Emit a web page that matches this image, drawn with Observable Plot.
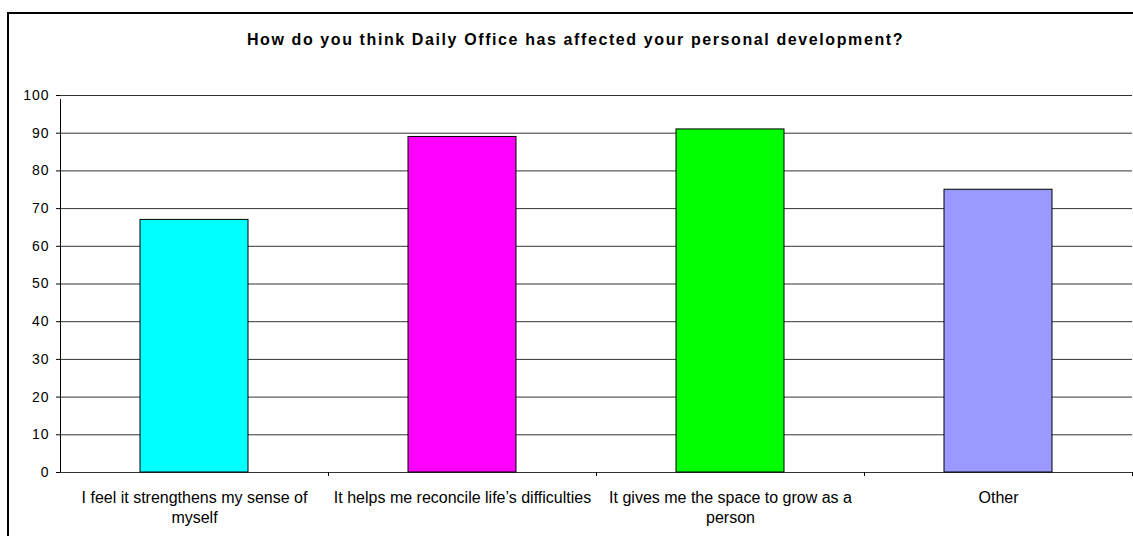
<!DOCTYPE html>
<html>
<head>
<meta charset="utf-8">
<script src="https://cdn.jsdelivr.net/npm/d3@7"></script>
<script src="https://cdn.jsdelivr.net/npm/@observablehq/plot@0.6"></script>
<style>
  html, body { margin: 0; padding: 0; background: #fff; }
  #wrap { position: relative; width: 1133px; height: 536px; overflow: hidden; }
  #frame { position: absolute; left: 7px; top: 12px; width: 1200px; height: 600px; border: 2px solid #000; box-sizing: border-box; }
  #title { position: absolute; left: 9px; width: 1133px; top: 31px; text-align: center; font: bold 16px "Liberation Sans", Arial, sans-serif; line-height: normal; letter-spacing: 1.6px; color: #000; white-space: nowrap; }
  #chart { position: absolute; left: 0; top: 0; }
  #chart g[aria-label="y-axis tick label"] text { letter-spacing: 1px; }
</style>
</head>
<body>
<div id="wrap">
  <div id="frame"></div>
  <div id="title"></div>
  <div id="chart"></div>
</div>
<script>
const titleText = "How do you think Daily Office has affected your personal development?";
const categories = [
  "I feel it strengthens my sense of myself",
  "It helps me reconcile life’s difficulties",
  "It gives me the space to grow as a person",
  "Other"
];
const tickLabels = [
  "I feel it strengthens my sense of\nmyself",
  "It helps me reconcile life’s difficulties",
  "It gives me the space to grow as a\nperson",
  "Other"
];
const values = [67, 89, 91, 75];
const colors = ["#00FFFF", "#FF00FF", "#00FF00", "#9999FF"];
const yTicks = [0, 10, 20, 30, 40, 50, 60, 70, 80, 90, 100];

document.getElementById("title").textContent = titleText;

const data = categories.map((c, i) => ({category: c, value: values[i], color: colors[i]}));
const labelOf = new Map(categories.map((c, i) => [c, tickLabels[i]]));

const W = 1133, H = 536;
const mLeft = 60, mRight = 1, mTop = 95, mBottom = 64;
const half = (W - mLeft - mRight) / categories.length / 2;

const chart = Plot.plot({
  width: W,
  height: H,
  marginLeft: mLeft,
  marginRight: mRight,
  marginTop: mTop,
  marginBottom: mBottom,
  style: {fontFamily: "'Liberation Sans', Arial, sans-serif", color: "#000", background: "transparent", overflow: "visible"},
  x: {domain: categories, padding: 0, label: null},
  y: {domain: [0, 100], label: null},
  marks: [
    Plot.ruleY(yTicks, {y: d => d, stroke: "#333", strokeOpacity: 1}),
    Plot.barY(data, {x: "category", y: "value", fill: "color", stroke: "#000", strokeWidth: 1, insetLeft: 80, insetRight: 80}),
    // category boundary ticks (first one doubles as the y axis line)
    Plot.ruleX([categories[0]], {x: d => d, y1: 0, y2: 100, dx: -half, insetBottom: -4, stroke: "#000"}),
    Plot.ruleX(categories.slice(1), {x: d => d, y1: 0, y2: 0, dx: -half, insetBottom: -4, stroke: "#000"}),
    Plot.ruleX([categories[categories.length - 1]], {x: d => d, y1: 0, y2: 0, dx: half, insetBottom: -4, stroke: "#000"}),
    Plot.axisY({ticks: yTicks, tickSize: 4, tickPadding: 7, fontSize: 14, label: null, stroke: "#000"}),
    Plot.axisX({tickSize: 0, tickPadding: 16, fontSize: 16, label: null, tickFormat: d => labelOf.get(d), lineHeight: 1.25})
  ]
});
document.getElementById("chart").appendChild(chart);
</script>
</body>
</html>
